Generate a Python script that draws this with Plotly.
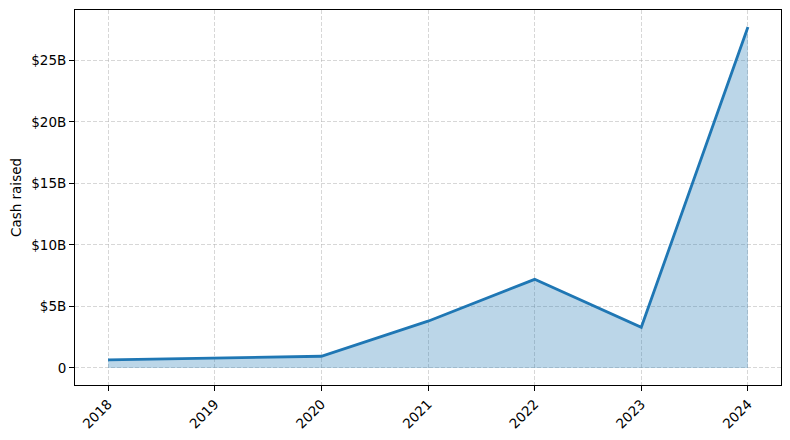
import plotly.graph_objects as go

years = [2018, 2019, 2020, 2021, 2022, 2023, 2024]
cash_b = [0.65, 0.78, 0.95, 3.8, 7.2, 3.3, 27.7]
ytick_vals = [0, 5, 10, 15, 20, 25]
ytick_text = ["0", "$5B", "$10B", "$15B", "$20B", "$25B"]

fig = go.Figure()
fig.add_trace(go.Scatter(
    x=years, y=cash_b, mode="lines",
    line=dict(color="#1f77b4", width=2.8),
    fill="tozeroy", fillcolor="rgba(31,119,180,0.3)",
    hoverinfo="x+y", showlegend=False,
))

axis_common = dict(
    showline=True, linecolor="black", linewidth=1, mirror=True,
    ticks="outside", ticklen=5, tickcolor="black", tickwidth=1,
    showgrid=True, gridcolor="rgba(176,176,176,0.5)", griddash="4px,2px", gridwidth=1,
    zeroline=False, automargin=False,
    tickfont=dict(family="DejaVu Sans", size=13.5, color="black"),
)

fig.update_layout(
    width=782, height=432,
    margin=dict(l=67, r=9, t=2, b=55),
    plot_bgcolor="white", paper_bgcolor="white",
    font=dict(family="DejaVu Sans", size=13.5, color="black"),
    xaxis=dict(range=[2017.69, 2024.31], tickvals=years, ticktext=[str(y) for y in years],
               tickangle=-45, **axis_common),
    yaxis=dict(range=[-1.385, 29.085], tickvals=ytick_vals, ticktext=ytick_text,
               title=dict(text="Cash raised", font=dict(size=13.5), standoff=8), **axis_common),
)

fig.write_html("out.html")
